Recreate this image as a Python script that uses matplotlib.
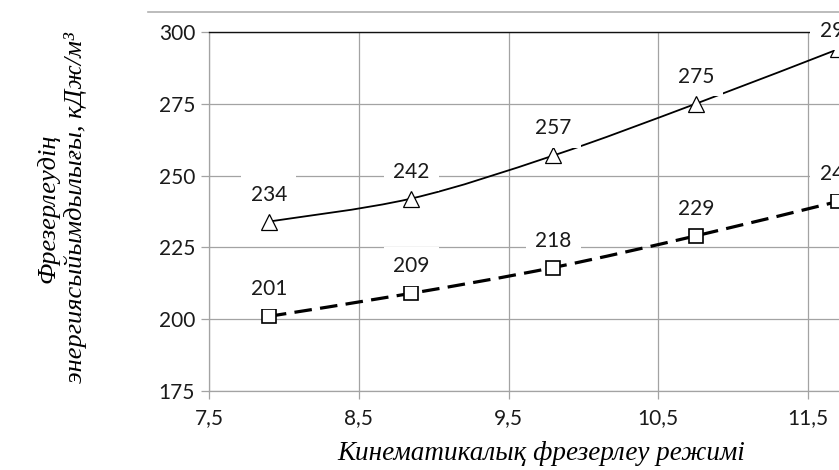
import numpy as np
import matplotlib
matplotlib.use('Agg')
import matplotlib.pyplot as plt
from matplotlib.path import Path
from matplotlib.patches import PathPatch
from matplotlib.lines import Line2D

# режимдер мен энергиясыйымдылық мәндері
x_mode = [7.9, 8.85, 9.8, 10.75, 11.7]
energy_tri = [234, 242, 257, 275, 294]
energy_sq = [201, 209, 218, 229, 241]

x_ticks = [7.5, 8.5, 9.5, 10.5, 11.5]
x_ticklabels = ['7,5', '8,5', '9,5', '10,5', '11,5']
y_ticks = [175, 200, 225, 250, 275, 300]

ylabel_text = 'Фрезерлеудің\nэнергиясыйымдылығы, кДж/м³'
xlabel_text = 'Кинематикалық фрезерлеу режимі'

font_num = 'Lato'
font_title = 'Liberation Serif'
grid_c = '#a3a3a3'


def smooth_path(xs, ys):
    # сплайн Безье (Catmull-Rom), тегіс сызық үшін
    xs = np.asarray(xs, float)
    ys = np.asarray(ys, float)
    pts = np.column_stack([xs, ys])
    verts = [pts[0]]
    codes = [Path.MOVETO]
    n = len(pts)
    for i in range(n - 1):
        p0 = pts[i - 1] if i > 0 else pts[i]
        p1 = pts[i]
        p2 = pts[i + 1]
        p3 = pts[i + 2] if i + 2 < n else pts[i + 1]
        c1 = p1 + (p2 - p0) / 6.0
        c2 = p2 - (p3 - p1) / 6.0
        verts += [c1, c2, p2]
        codes += [Path.CURVE4] * 3
    return Path(verts, codes)


W, H = 839, 470
fig = plt.figure(figsize=(W/100, H/100), dpi=100)
ax = fig.add_axes([209/W, 1-391/H, 1-209/W, (391-32)/H])

ax.set_xlim(7.5, 11.707)
ax.set_ylim(175, 300)

ax.set_xticks(x_ticks)
ax.set_xticklabels(x_ticklabels, fontsize=15, fontfamily=font_num, color='#1a1a1a')
ax.set_yticks(y_ticks)
ax.set_yticklabels([str(v) for v in y_ticks], fontsize=15, fontfamily=font_num, color='#1a1a1a')
ax.tick_params(axis='x', length=6, width=0.9, color=grid_c, pad=6)
ax.tick_params(axis='y', length=6, width=0.9, color=grid_c, pad=4)

ax.grid(True, color=grid_c, lw=0.9)
ax.set_axisbelow(True)
ax.spines['right'].set_visible(False)
ax.spines['left'].set_color(grid_c)
ax.spines['bottom'].set_color(grid_c)
ax.spines['left'].set_linewidth(0.9)
ax.spines['bottom'].set_linewidth(0.9)
ax.spines['top'].set_color('#111111')
ax.spines['top'].set_linewidth(1.0)

# жоғарғы қисық (үшбұрыш)
ax.add_patch(PathPatch(smooth_path(x_mode, energy_tri), fill=False,
                       edgecolor='black', lw=1.3, zorder=3, clip_on=False))
ax.plot(x_mode, energy_tri, ls='none', marker='^', markersize=11,
        markerfacecolor='white', markeredgecolor='black', markeredgewidth=0.9,
        zorder=4, clip_on=False)

# төменгі қисық (шаршы), штрихпен
ax.add_patch(PathPatch(smooth_path(x_mode, energy_sq), fill=False,
                       edgecolor='black', lw=2.3, linestyle=(0, (5.5, 2.6)),
                       zorder=3, clip_on=False))
ax.plot(x_mode, energy_sq, ls='none', marker='s', markersize=10,
        markerfacecolor='white', markeredgecolor='black', markeredgewidth=1.2,
        zorder=4, clip_on=False)

# мән белгілері нүктелердің үстінде, жоғарғы рамкадан шықпайды
for xs, ys in [(x_mode, energy_tri), (x_mode, energy_sq)]:
    for xv, yv in zip(xs, ys):
        px, py = ax.transData.transform((xv, yv))
        ly = min(py + 27, H - 31)
        ax.annotate(str(yv), (xv, yv), xytext=(px, ly), textcoords='figure pixels',
                    ha='center', va='center', fontsize=15, fontfamily=font_num,
                    color='#1a1a1a', zorder=5, annotation_clip=False,
                    bbox=dict(boxstyle='square,pad=0.45', fc='white', ec='none'))

fig.text(541/W, 1-453/H, xlabel_text, ha='center', va='center',
         fontsize=19.5, fontfamily=font_title, style='italic')
fig.text(62/W, 1-208/H, ylabel_text, ha='center', va='center', rotation=90,
         multialignment='center', fontsize=19, fontfamily=font_title,
         style='italic', linespacing=1.25)

# рамка сызығы жоғарыда
fig.add_artist(Line2D([148/W, 1.0], [1-12/H, 1-12/H], color='#b0b0b0',
                      lw=1.2, transform=fig.transFigure))

fig.savefig('out.png', dpi=100)
